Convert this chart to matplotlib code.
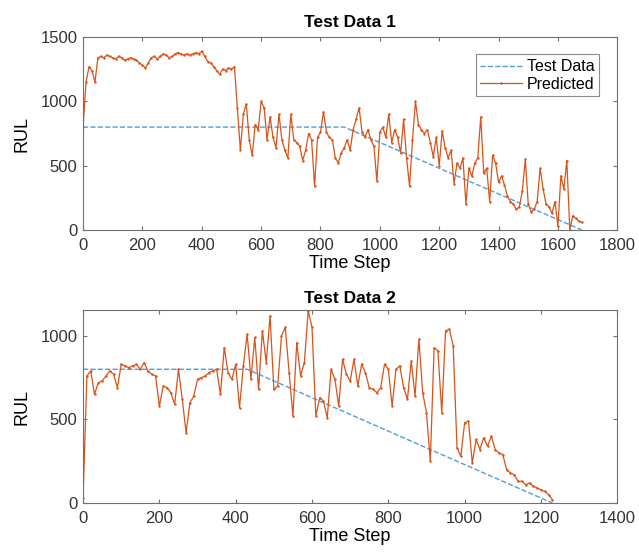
import numpy as np
import matplotlib
matplotlib.use("Agg")
import matplotlib.pyplot as plt

plt.rcParams['font.family'] = ['Liberation Sans', 'DejaVu Sans']

# Test Data 1: true RUL (piecewise) and predicted RUL every 10 steps
true1_steps = [0, 880, 1680]
true1_rul = [800, 800, 0]
pred1 = [
    800, 1150, 1270, 1240, 1150, 1340, 1350, 1340, 1360, 1350,
    1340, 1330, 1350, 1340, 1320, 1330, 1340, 1330, 1320, 1300,
    1280, 1260, 1300, 1340, 1350, 1330, 1350, 1370, 1360, 1340,
    1350, 1370, 1380, 1370, 1360, 1370, 1360, 1370, 1380, 1370,
    1390, 1350, 1310, 1300, 1270, 1240, 1210, 1250, 1240, 1260,
    1250, 1270, 950, 620, 900, 980, 700, 580, 820, 780,
    1000, 950, 700, 880, 720, 640, 900, 700, 620, 560,
    900, 700, 680, 650, 540, 620, 750, 700, 340, 720,
    760, 920, 760, 720, 700, 560, 520, 600, 640, 700,
    620, 780, 860, 950, 760, 720, 780, 700, 650, 380,
    760, 800, 720, 900, 680, 780, 720, 600, 860, 560,
    340, 700, 1000, 820, 780, 750, 780, 680, 570, 720,
    500, 770, 640, 560, 620, 360, 520, 480, 560, 200,
    480, 420, 520, 560, 880, 440, 480, 220, 580, 520,
    370, 420, 350, 260, 220, 200, 160, 180, 300, 550,
    200, 140, 160, 220, 480, 320, 200, 180, 130, 220,
    30, 420, 320, 540, 0, 110, 90, 70, 60,
]
steps1 = np.arange(len(pred1)) * 10

# Test Data 2
true2_steps = [0, 430, 1230]
true2_rul = [800, 800, 0]
pred2 = [
    30, 760, 790, 650, 720, 730, 760, 790, 770, 690,
    830, 820, 810, 820, 830, 800, 840, 790, 770, 760,
    580, 700, 690, 660, 590, 800, 620, 420, 600, 640,
    740, 750, 760, 780, 790, 800, 650, 930, 780, 740,
    830, 570, 820, 1010, 740, 990, 680, 1030, 840, 1120,
    680, 700, 1000, 1050, 780, 520, 960, 760, 840, 1150,
    1050, 520, 630, 610, 510, 800, 740, 580, 860, 770,
    730, 860, 700, 830, 780, 690, 680, 660, 690, 830,
    800, 580, 800, 820, 690, 620, 850, 640, 980, 660,
    540, 250, 930, 910, 540, 1030, 1040, 940, 330, 280,
    480, 490, 240, 380, 320, 390, 340, 400, 320, 300,
    290, 200, 180, 170, 130, 130, 110, 120, 100, 90,
    80, 70, 50, 20,
]
steps2 = np.arange(len(pred2)) * 10

blue = '#4f9fd8'
orange = '#d95319'
frame = '#707070'

fig = plt.figure(figsize=(6.39, 5.54), dpi=100)
ax1 = fig.add_axes([0.130, 0.585, 0.836, 0.348])
ax2 = fig.add_axes([0.130, 0.092, 0.836, 0.348])


def style(ax, title, xmax, ymax, yticks, tpad):
    ax.set_title(title, fontsize=12.5, fontweight='bold', pad=tpad)
    ax.set_xlim(0, xmax)
    ax.set_ylim(0, ymax)
    ax.set_xticks(np.arange(0, xmax + 1, 200))
    ax.set_yticks(yticks)
    ax.set_xlabel('Time Step', fontsize=13, labelpad=1)
    ax.set_ylabel('RUL', fontsize=13, labelpad=7)
    ax.tick_params(direction='in', top=True, right=True, length=3,
                   color=frame, labelsize=12, labelcolor='#333333')
    ax.tick_params(axis='x', pad=6)
    ax.tick_params(axis='y', pad=4)
    for s in ax.spines.values():
        s.set_color(frame)
        s.set_linewidth(0.8)


ax1.plot(true1_steps, true1_rul, '--', color=blue, linewidth=1.0, label='Test Data')
ax1.plot(steps1, pred1, '.-', color=orange, linewidth=0.9, markersize=3.5,
         markeredgewidth=0, label='Predicted')
style(ax1, 'Test Data 1', 1800, 1500, [0, 500, 1000, 1500], 7)
leg = ax1.legend(loc='upper right', fontsize=11.5, frameon=True, fancybox=False,
                 edgecolor=frame, handlelength=2.6, borderpad=0.3,
                 labelspacing=0.15, handletextpad=0.3, numpoints=1,
                 bbox_to_anchor=(0.966, 0.91), borderaxespad=0)
leg.get_frame().set_linewidth(0.8)

ax2.plot(true2_steps, true2_rul, '--', color=blue, linewidth=1.0)
ax2.plot(steps2, pred2, '.-', color=orange, linewidth=0.9, markersize=3.5,
         markeredgewidth=0)
style(ax2, 'Test Data 2', 1400, 1153, [0, 500, 1000], 5)

fig.savefig('out.png', dpi=100)
